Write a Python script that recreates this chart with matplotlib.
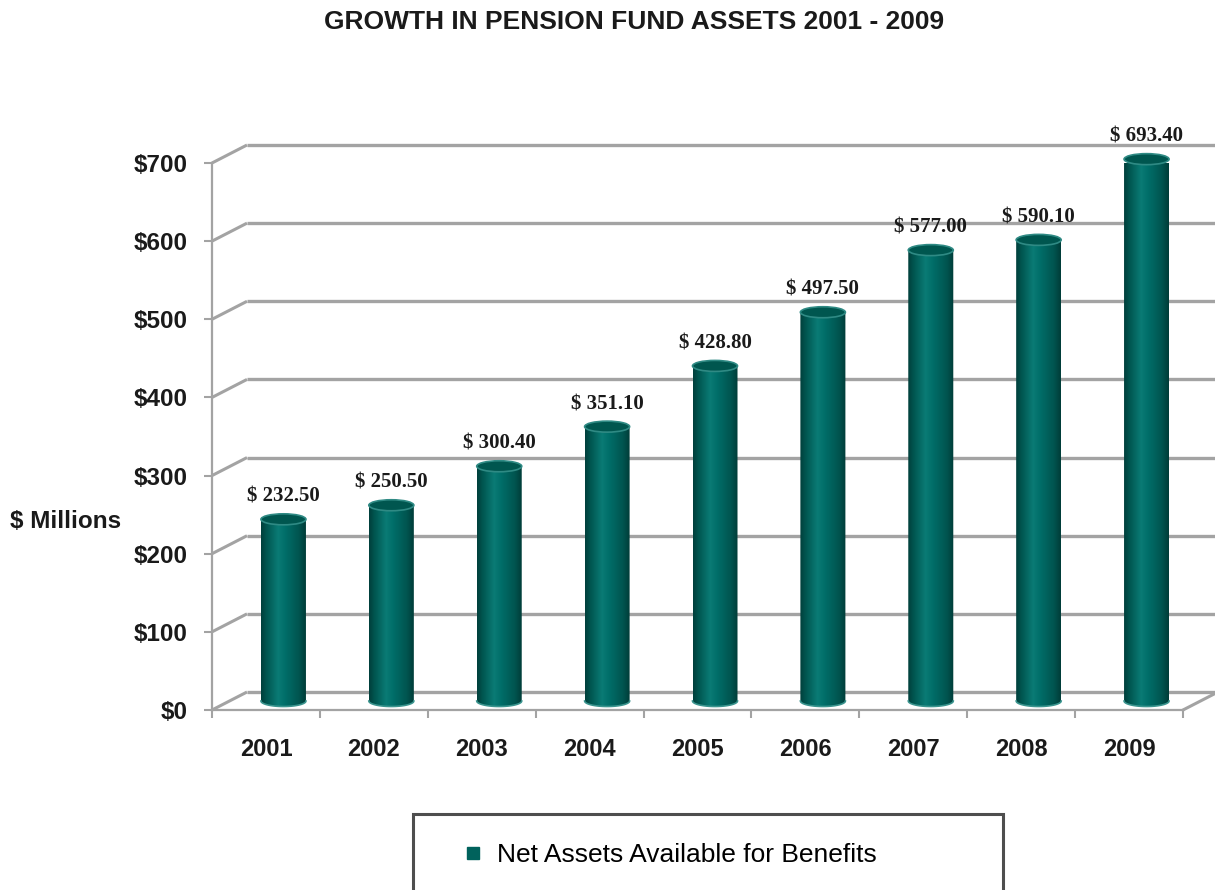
import numpy as np
import matplotlib
matplotlib.use("Agg")
import matplotlib.pyplot as plt
from matplotlib.path import Path
from matplotlib.patches import PathPatch, Ellipse
from matplotlib.colors import LinearSegmentedColormap
from matplotlib.lines import Line2D

plt.rcParams["font.family"] = ["Liberation Sans", "DejaVu Sans"]

years = ["2001", "2002", "2003", "2004", "2005", "2006", "2007", "2008", "2009"]
net_assets = [232.50, 250.50, 300.40, 351.10, 428.80, 497.50, 577.00, 590.10, 693.40]
y_ticks = [0, 100, 200, 300, 400, 500, 600, 700]
series_name = "Net Assets Available for Benefits"

W, H = 1215, 890
fig = plt.figure(figsize=(W / 100, H / 100), dpi=100)
ax = fig.add_axes([212 / W, 180 / H, 971 / W, 547 / H])
ax.set_xlim(-0.5, len(years) - 0.5)
ax.set_ylim(0, 700)
ax.patch.set_visible(False)

# depth of the pseudo-3d box, in pixels, turned into data units
px_x = 971 / len(years)
px_y = 547 / 700
ddx = 35 / px_x
ddy = 18 / px_y

grid_c = "#a3a3a3"
for v in y_ticks:
    ax.plot([-0.5, -0.5 + ddx], [v, v + ddy], color=grid_c, lw=2.2,
            clip_on=False, zorder=1, solid_capstyle="butt")
    ax.plot([-0.5 + ddx, len(years) + 1], [v + ddy, v + ddy], color=grid_c,
            lw=2.4, clip_on=False, zorder=1, solid_capstyle="butt")
ax.plot([len(years) - 0.5, len(years) - 0.5 + ddx], [0, ddy], color=grid_c,
        lw=2.2, clip_on=False, zorder=1)

for s in ["top", "right"]:
    ax.spines[s].set_visible(False)
for s in ["left", "bottom"]:
    ax.spines[s].set_color(grid_c)
    ax.spines[s].set_linewidth(1.6)

ax.set_yticks(y_ticks)
ax.set_yticklabels([f"${v}" for v in y_ticks], fontsize=17.5,
                   fontweight="bold", color="#1a1a1a")
ax.tick_params(axis="y", length=5.8, width=1.5, color=grid_c, pad=11.5)
ax.set_xticks(range(len(years)))
ax.set_xticklabels(years, fontsize=17, fontweight="bold", color="#1a1a1a")
ax.set_xticks(np.arange(-0.5, len(years)), minor=True)
ax.tick_params(axis="x", which="major", length=0, pad=20)
ax.tick_params(axis="x", which="minor", length=5.8, width=1.5, color=grid_c)

# cylinder shading across the bar width
cyl = LinearSegmentedColormap.from_list("cyl", [
    (0.0, "#003f3b"), (0.12, "#00554f"), (0.38, "#0a7b75"),
    (0.55, "#006d68"), (0.85, "#00544f"), (1.0, "#003c38")])
grad = np.linspace(0, 1, 256).reshape(1, -1)

bw = 45 / px_x
cap_h = 11 / px_y
for i, v in enumerate(net_assets):
    xc = i + ddx / 2
    y0 = ddy / 2
    top = v + ddy / 2
    t = np.linspace(np.pi, 2 * np.pi, 40)
    arc = np.column_stack([xc + bw / 2 * np.cos(t), y0 + cap_h / 2 * np.sin(t)])
    verts = np.vstack([[xc - bw / 2, top], arc, [xc + bw / 2, top], [xc - bw / 2, top]])
    codes = [Path.MOVETO] + [Path.LINETO] * (len(verts) - 2) + [Path.CLOSEPOLY]
    body = PathPatch(Path(verts, codes), facecolor="none", edgecolor="none",
                     zorder=3, clip_on=False)
    ax.add_patch(body)
    im = ax.imshow(grad, cmap=cyl, aspect="auto", zorder=3,
                   extent=[xc - bw / 2, xc + bw / 2, y0 - cap_h, top])
    im.set_clip_box(None)
    im.set_clip_path(body)
    ax.plot(arc[:, 0], arc[:, 1], color="#3a948e", lw=1.2, zorder=4, clip_on=False)
    ax.add_patch(Ellipse((xc, top), bw, cap_h, facecolor="#00564f",
                         edgecolor="#2f8a84", lw=1.2, zorder=5, clip_on=False))
    ax.annotate(f"$ {v:.2f}", (xc, top), xytext=(0, 9), textcoords="offset points",
                ha="center", va="bottom", fontsize=15, fontweight="bold",
                family=["Liberation Serif", "DejaVu Serif"], color="#1a1a1a",
                annotation_clip=False)

ax.set_xlim(-0.5, len(years) - 0.5)
ax.set_ylim(0, 700)

fig.text(634 / W, 1 - 22 / H, "GROWTH IN PENSION FUND ASSETS 2001 - 2009",
         ha="center", va="center", fontsize=19, fontweight="bold", color="#1a1a1a")
fig.text(10 / W, 1 - 522 / H, "$ Millions", ha="left", va="center",
         fontsize=17.5, fontweight="bold", color="#1a1a1a")

handle = Line2D([], [], marker="s", markersize=8.6, linestyle="none",
                color="#00625c")
leg = fig.legend([handle], [series_name], loc="upper left",
                 bbox_to_anchor=(413 / W, 0, 590 / W, 1 - 814 / H), mode="expand",
                 borderaxespad=0, borderpad=1.1, handlelength=2.35,
                 handletextpad=-0.27, fontsize=19, fancybox=False, frameon=True)
leg.get_frame().set_edgecolor("#222222")
leg.get_frame().set_linewidth(2.2)

fig.savefig("out.png", dpi=100)
